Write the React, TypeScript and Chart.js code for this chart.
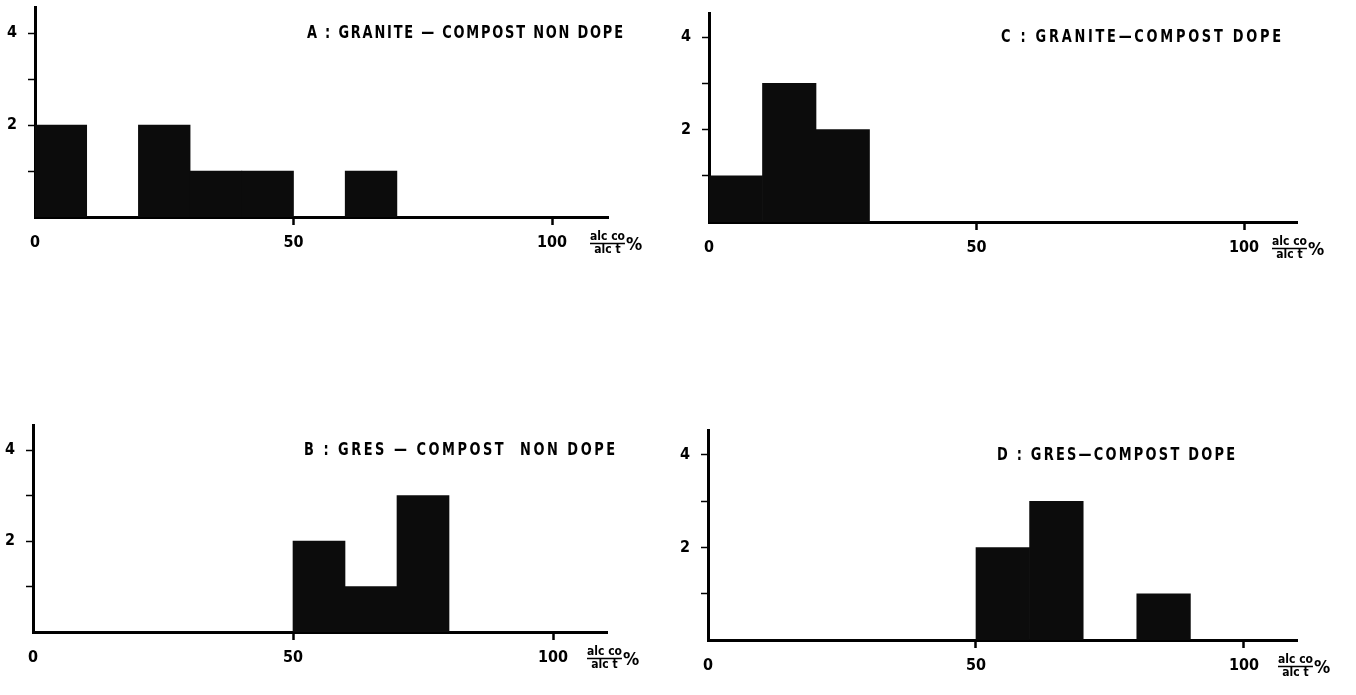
import React, { useEffect, useRef } from "react";
import { Chart, registerables } from "chart.js";

Chart.register(...registerables);

// ---- data ----
const binEdges = [0, 10, 20, 30, 40, 50, 60, 70, 80, 90, 100];
const xTickValues = [0, 50, 100];
const yTickValues = [1, 2, 3, 4];
const yLabeledValues = [2, 4];

const titleA = "A : GRANITE — COMPOST NON DOPE";
const titleC = "C : GRANITE—COMPOST DOPE";
const titleB = "B : GRES — COMPOST  NON DOPE";
const titleD = "D : GRES—COMPOST DOPE";

const seriesA = [2, 0, 2, 1, 1, 0, 1, 0, 0, 0];
const seriesC = [1, 3, 2, 0, 0, 0, 0, 0, 0, 0];
const seriesB = [0, 0, 0, 0, 0, 2, 1, 3, 0, 0];
const seriesD = [0, 0, 0, 0, 0, 2, 3, 0, 1, 0];

const unitNumerator = "alc co";
const unitDenominator = "alc t";
const unitPercent = "%";

// ---- layout (page pixel positions) ----
const W = 678;
const H = 290;
const FONT = "'DejaVu Sans Condensed', 'Liberation Sans Narrow', 'Arial Narrow', 'DejaVu Sans', sans-serif";

type Layout = {
  left: number; top: number; x0: number; x100: number; xMax: number;
  axisTop: number; y4: number; baseline: number;
  titleX: number; titleW: number; unitDx: number;
};

const layouts: Layout[] = [
  { left: 0, top: 0, x0: 35, x100: 552, xMax: 111, axisTop: 7, y4: 33, baseline: 217, titleX: 307, titleW: 316, unitDx: 38 },
  { left: 678, top: 0, x0: 709, x100: 1244, xMax: 110, axisTop: 13, y4: 37, baseline: 222, titleX: 1001, titleW: 280, unitDx: 28 },
  { left: 0, top: 400, x0: 33, x100: 553, xMax: 110.5, axisTop: 425, y4: 450, baseline: 632, titleX: 304, titleW: 311, unitDx: 34 },
  { left: 678, top: 400, x0: 708, x100: 1244, xMax: 110, axisTop: 430, y4: 455, baseline: 640, titleX: 997, titleW: 238, unitDx: 34 },
];

const panelTitles = [titleA, titleC, titleB, titleD];
const panelSeries = [seriesA, seriesC, seriesB, seriesD];

function Panel({ idx }: { idx: number }) {
  const ref = useRef<HTMLCanvasElement>(null);
  const L = layouts[idx];

  useEffect(() => {
    if (!ref.current) return;
    const series = panelSeries[idx];
    const title = panelTitles[idx];
    const ppu = (L.x100 - L.x0) / 100;
    const chartRight = L.x0 + L.xMax * ppu - L.left;
    const yWidth = L.x0 - L.left;
    const padTop = L.axisTop - L.top;
    const padRight = W - chartRight;
    const xHeight = H - (L.baseline - L.top);
    const yMax = (4 * (L.baseline - L.axisTop)) / (L.baseline - L.y4);

    const textPlugin = {
      id: "panelText" + idx,
      afterDraw(chart: any) {
        const ctx = chart.ctx as CanvasRenderingContext2D;
        const xs = chart.scales.x;
        const ys = chart.scales.y;
        ctx.save();
        ctx.fillStyle = "#000";
        ctx.strokeStyle = "#000";
        // title (condensed by horizontal scaling)
        const sx = 0.8;
        ctx.font = `bold 18px ${FONT}`;
        (ctx as any).letterSpacing = "0px";
        const w0 = ctx.measureText(title).width;
        const sp = (L.titleW / sx - w0) / Math.max(1, title.length - 1);
        ctx.save();
        ctx.translate(L.titleX - L.left, ys.getPixelForValue(4));
        ctx.scale(sx, 1);
        (ctx as any).letterSpacing = `${sp}px`;
        ctx.textBaseline = "middle";
        ctx.textAlign = "left";
        ctx.fillText(title, 0, 0);
        ctx.restore();
        (ctx as any).letterSpacing = "0px";
        // unit fraction
        const ux = xs.getPixelForValue(100) + L.unitDx;
        const by = ys.getPixelForValue(0);
        ctx.font = `bold 12px ${FONT}`;
        ctx.textBaseline = "middle";
        const nw = ctx.measureText(unitNumerator).width;
        ctx.textAlign = "center";
        ctx.fillText(unitNumerator, ux + nw / 2, by + 20);
        ctx.fillText(unitDenominator, ux + nw / 2, by + 33);
        ctx.lineWidth = 1.5;
        ctx.beginPath();
        ctx.moveTo(ux, by + 26.5);
        ctx.lineTo(ux + nw, by + 26.5);
        ctx.stroke();
        ctx.font = `bold 18px ${FONT}`;
        ctx.textAlign = "left";
        ctx.fillText(unitPercent, ux + nw + 1, by + 28);
        ctx.restore();
      },
    };

    const tickFont = { family: FONT, size: 16, weight: "bold" as const };

    const chart = new Chart(ref.current, {
      type: "bar",
      data: {
        datasets: [
          {
            data: series.map((v, i) => ({ x: (binEdges[i] + binEdges[i + 1]) / 2, y: v })),
            backgroundColor: "#0c0c0c",
            borderWidth: 0,
            barPercentage: 1,
            categoryPercentage: 1,
          } as any,
        ],
      },
      options: {
        responsive: false,
        animation: false,
        layout: { padding: { top: padTop, right: padRight, left: 0, bottom: 0 } },
        plugins: {
          legend: { display: false },
          tooltip: { enabled: false },
        },
        scales: {
          x: {
            type: "linear",
            min: 0,
            max: L.xMax,
            offset: false,
            grid: {
              offset: false,
              drawOnChartArea: false,
              drawTicks: true,
              tickLength: 8,
              tickWidth: 2.5,
              tickColor: (c: any) => (c.tick && c.tick.value === 0 ? "rgba(0,0,0,0)" : "#000"),
            },
            border: { display: true, width: 3, color: "#000" },
            ticks: { font: tickFont, color: "#000", padding: 8, maxRotation: 0, autoSkip: false },
            afterBuildTicks: (s: any) => {
              s.ticks = xTickValues.map((v) => ({ value: v }));
            },
            afterFit: (s: any) => {
              s.height = xHeight;
              s.paddingLeft = 0;
              s.paddingRight = 0;
              s.paddingTop = 0;
              s.paddingBottom = 0;
            },
          } as any,
          y: {
            type: "linear",
            min: 0,
            max: yMax,
            grid: { drawOnChartArea: false, drawTicks: true, tickLength: 7, tickWidth: 1.5, tickColor: "#000" },
            border: { display: true, width: 3, color: "#000" },
            ticks: {
              font: tickFont,
              color: "#000",
              padding: 11,
              callback: (v: any) => (yLabeledValues.includes(Number(v)) ? String(v) : ""),
            },
            afterBuildTicks: (s: any) => {
              s.ticks = yTickValues.map((v) => ({ value: v }));
            },
            afterFit: (s: any) => {
              s.width = yWidth;
              s.paddingTop = 0;
              s.paddingBottom = 0;
              s.paddingLeft = 0;
              s.paddingRight = 0;
            },
          } as any,
        },
      },
      plugins: [textPlugin],
    });
    return () => chart.destroy();
  }, [idx]);

  return (
    <canvas
      ref={ref}
      width={W}
      height={H}
      style={{ position: "absolute", left: L.left, top: L.top, width: W, height: H }}
    />
  );
}

export default function App() {
  return (
    <div
      style={{
        position: "fixed",
        left: 0,
        top: 0,
        width: 1356,
        height: 695,
        background: "#fff",
        overflow: "hidden",
      }}
    >
      {layouts.map((_, i) => (
        <Panel key={i} idx={i} />
      ))}
    </div>
  );
}
